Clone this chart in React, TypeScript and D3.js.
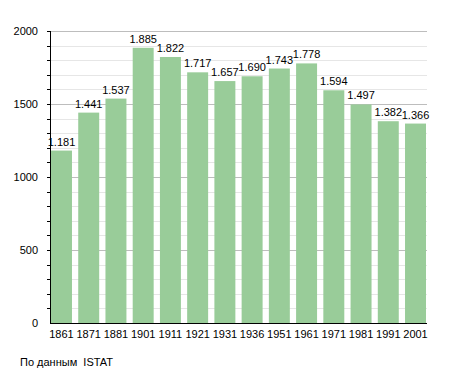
import React, { useRef, useEffect } from "react";
import * as d3 from "d3";

// census years and population
const years = ["1861", "1871", "1881", "1901", "1911", "1921", "1931", "1936", "1951", "1961", "1971", "1981", "1991", "2001"];
const population = [1181, 1441, 1537, 1885, 1822, 1717, 1657, 1690, 1743, 1778, 1594, 1497, 1382, 1366];
const yTicks = [0, 500, 1000, 1500, 2000];
const source = "По данным  ISTAT";

const fmt = (v: number) => (v / 1000).toFixed(3);

const App = () => {
  const ref = useRef<SVGSVGElement>(null);

  useEffect(() => {
    if (!ref.current) return;
    const svg = d3.select(ref.current);
    svg.selectAll("*").remove();

    const left = 50;
    const right = 427;
    const top = 31;
    const bottom = 323;
    const font = "Liberation Sans, Arial, sans-serif";

    const y = d3.scaleLinear().domain([0, 2000]).range([bottom, top]);
    const x = d3
      .scaleBand()
      .domain(years)
      .range([51, 426])
      .paddingInner(0.23)
      .paddingOuter(0);

    // minor gridlines every 100
    const minor = d3.range(100, 2000, 100).filter((v) => v % 500 !== 0);
    svg
      .append("g")
      .selectAll("line")
      .data(minor)
      .enter()
      .append("line")
      .attr("x1", left)
      .attr("x2", right)
      .attr("y1", (d) => Math.round(y(d)) + 0.5)
      .attr("y2", (d) => Math.round(y(d)) + 0.5)
      .attr("stroke", "#e6e6e6")
      .attr("stroke-width", 1);

    // major gridlines
    svg
      .append("g")
      .selectAll("line")
      .data(yTicks.filter((v) => v > 0))
      .enter()
      .append("line")
      .attr("x1", left)
      .attr("x2", right)
      .attr("y1", (d) => Math.round(y(d)) + 0.5)
      .attr("y2", (d) => Math.round(y(d)) + 0.5)
      .attr("stroke", "#bdbdbd")
      .attr("stroke-width", 1);

    // bars
    svg
      .append("g")
      .selectAll("rect")
      .data(population)
      .enter()
      .append("rect")
      .attr("x", (d, i) => x(years[i]) as number)
      .attr("width", x.bandwidth())
      .attr("y", (d) => y(d))
      .attr("height", (d) => bottom - y(d))
      .attr("fill", "#99cc99");

    // value labels
    svg
      .append("g")
      .selectAll("text")
      .data(population)
      .enter()
      .append("text")
      .attr("x", (d, i) => (x(years[i]) as number) + x.bandwidth() / 2)
      .attr("y", (d) => y(d) - 5)
      .attr("text-anchor", "middle")
      .attr("font-family", font)
      .attr("font-size", 11)
      .attr("fill", "#000")
      .text((d) => fmt(d));

    // y axis with minor ticks
    const axisY = svg.append("g");
    axisY
      .append("line")
      .attr("x1", left + 0.5)
      .attr("x2", left + 0.5)
      .attr("y1", top)
      .attr("y2", bottom)
      .attr("stroke", "#000");
    axisY
      .selectAll("line.tick")
      .data(d3.range(100, 2001, 100))
      .enter()
      .append("line")
      .attr("class", "tick")
      .attr("x1", left - 3)
      .attr("x2", left)
      .attr("y1", (d) => Math.round(y(d)) + 0.5)
      .attr("y2", (d) => Math.round(y(d)) + 0.5)
      .attr("stroke", "#000");
    axisY
      .selectAll("text")
      .data(yTicks)
      .enter()
      .append("text")
      .attr("x", 38)
      .attr("y", (d) => y(d) + 4)
      .attr("text-anchor", "end")
      .attr("font-family", font)
      .attr("font-size", 11)
      .text((d) => String(d));

    // x axis
    svg
      .append("line")
      .attr("x1", left)
      .attr("x2", right)
      .attr("y1", bottom + 0.5)
      .attr("y2", bottom + 0.5)
      .attr("stroke", "#000");
    svg
      .append("g")
      .selectAll("text")
      .data(years)
      .enter()
      .append("text")
      .attr("x", (d) => (x(d) as number) + x.bandwidth() / 2)
      .attr("y", bottom + 15)
      .attr("text-anchor", "middle")
      .attr("font-family", font)
      .attr("font-size", 11)
      .text((d) => d);

    svg
      .append("text")
      .attr("x", 20)
      .attr("y", 366)
      .attr("font-family", font)
      .attr("font-size", 11)
      .attr("xml:space", "preserve")
      .style("white-space", "pre")
      .text(source);
  }, []);

  return (
    <svg
      ref={ref}
      width={455}
      height={373}
      style={{ position: "absolute", left: 0, top: 0, background: "#fff" }}
    />
  );
};

export default App;
